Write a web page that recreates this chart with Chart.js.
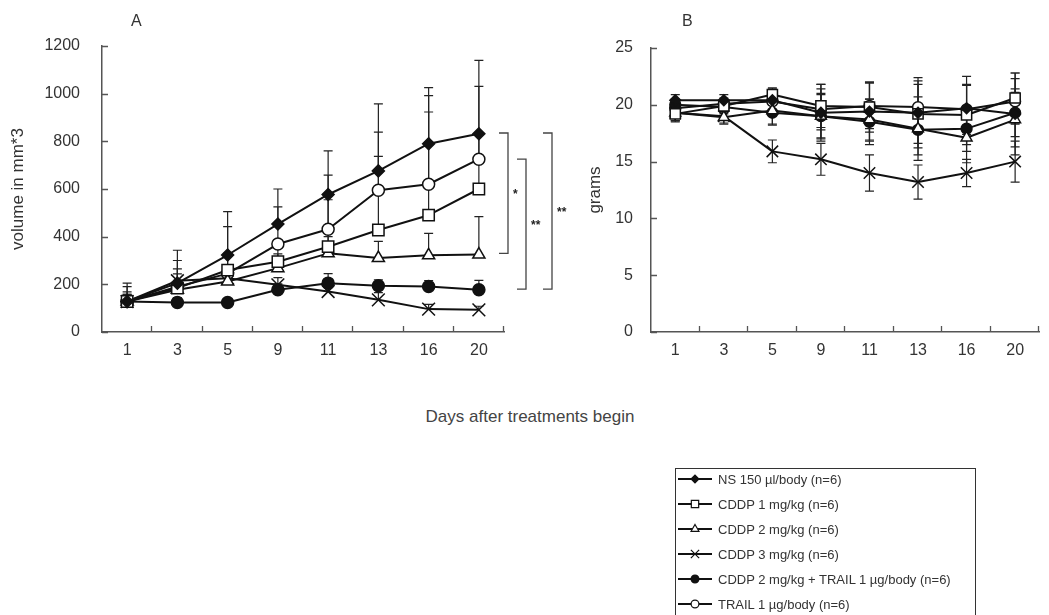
<!DOCTYPE html>
<html><head><meta charset="utf-8">
<script src="https://cdn.jsdelivr.net/npm/chart.js@4.4.1/dist/chart.umd.min.js"></script>
<style>
html,body{margin:0;padding:0;background:#fff}
body{width:1049px;height:615px;overflow:hidden;position:relative;font-family:"Liberation Sans",Arial,sans-serif;color:#333}
.abs{position:absolute}
#legend{position:absolute;left:675px;top:468px;width:301px;height:170px;border:1px solid #333;box-sizing:border-box}
.row{position:absolute;left:0;height:20px;display:flex;align-items:center;font-size:13px;white-space:nowrap}
.row canvas{margin-left:2px;margin-right:6px}
</style></head><body>
<div class="abs" style="left:0;top:0"><canvas id="cA" width="600" height="380"></canvas></div>
<div class="abs" style="left:560px;top:0"><canvas id="cB" width="489" height="380"></canvas></div>
<div class="abs" style="left:131px;top:12px;font-size:16px">A</div>
<div class="abs" style="left:682px;top:12px;font-size:16px">B</div>
<div class="abs" style="left:380px;top:407px;width:300px;text-align:center;font-size:17px;color:#444">Days after treatments begin</div>
<div id="legend"></div>
<script>
// ---------- data ----------
const days = ['1','3','5','9','11','13','16','20'];
const seriesNames = ['NS 150 µl/body (n=6)','CDDP 1 mg/kg (n=6)','CDDP 2 mg/kg (n=6)','CDDP 3 mg/kg (n=6)','CDDP 2 mg/kg + TRAIL 1 µg/body (n=6)','TRAIL 1 µg/body (n=6)'];

// Panel A: tumour volume (mm^3), mean and SD
const volNS      = [128, 205, 323, 453, 577, 676, 790, 832];
const volCDDP1   = [128, 184, 260, 295, 358, 428, 490, 600];
const volCDDP2   = [128, 177, 212, 268, 330, 310, 322, 325];
const volCDDP3   = [128, 215, 226, 198, 170, 135,  96,  93];
const volCombo   = [128, 124, 124, 177, 205, 194, 191, 177];
const volTRAIL   = [128, 190, 245, 369, 431, 595, 620, 725];
const volSdNS    = [77, 138, 182, 147, 183, 281, 235, 308];
const volSdCDDP1 = [40, 60, 70, 80, 197, 309, 433, 230];
const volSdCDDP2 = [30, 40, 50, 60, 70, 70, 92, 159];
const volSdCDDP3 = [30, 50, 40, 30, 20, 30, 20, 15];
const volSdCombo = [20, 20, 15, 25, 40, 25, 25, 40];
const volSdTRAIL = [62, 110, 197, 156, 227, 244, 372, 306];

// Panel B: body weight (grams), mean and SD
const wtNS      = [20.4, 20.4, 20.4, 19.3, 19.4, 19.3, 19.7, 19.2];
const wtCDDP1   = [19.2, 19.9, 20.9, 19.9, 19.8, 19.2, 19.1, 20.6];
const wtCDDP2   = [19.3, 18.9, 19.5, 19.0, 18.7, 17.9, 17.1, 18.7];
const wtCDDP3   = [19.3, 19.0, 15.9, 15.2, 14.0, 13.2, 14.0, 15.0];
const wtCombo   = [20.0, 19.8, 19.3, 19.0, 18.5, 17.8, 17.9, 19.3];
const wtTRAIL   = [19.7, 20.1, 20.3, 19.6, 19.9, 19.8, 19.6, 20.3];
const wtSdNS    = [0.5, 0.5, 1.0, 2.5, 2.6, 3.1, 2.8, 3.6];
const wtSdCDDP1 = [0.6, 0.5, 0.6, 1.9, 2.2, 2.6, 2.6, 2.2];
const wtSdCDDP2 = [0.7, 0.6, 1.2, 2.0, 1.8, 2.8, 2.2, 2.4];
const wtSdCDDP3 = [0.8, 0.6, 1.0, 1.4, 1.6, 1.5, 1.2, 1.8];
const wtSdCombo = [0.5, 0.6, 1.1, 1.9, 2.0, 2.2, 2.0, 2.1];
const wtSdTRAIL = [0.6, 0.5, 0.8, 1.8, 2.0, 2.3, 2.2, 2.0];

// significance brackets in panel A (value range, label)
const bracketTop    = [835, 725, 835];
const bracketBottom = [330, 180, 180];
const bracketLabels = ['*', '**', '**'];

// ---------- styles ----------
const INK = '#111';
const FONT = '"Liberation Sans", Arial, sans-serif';
const markerStyles = [
  {pointStyle:'rectRot',  radius:6, fill:INK},
  {pointStyle:'rect',     radius:8, fill:'#fff'},
  {pointStyle:'triangle', radius:7, fill:'#fff'},
  {pointStyle:'crossRot', radius:9, fill:'#fff'},
  {pointStyle:'circle',   radius:6, fill:INK},
  {pointStyle:'circle',   radius:6, fill:'#fff'}
];

function makeDatasets(means, sds, scale){
  return means.map((m, i) => ({
    label: seriesNames[i],
    data: m,
    sd: sds[i],
    borderColor: INK,
    borderWidth: 2,
    pointStyle: markerStyles[i].pointStyle,
    pointRadius: markerStyles[i].radius * scale,
    pointBackgroundColor: markerStyles[i].fill,
    pointBorderColor: INK,
    pointBorderWidth: 1.5,
    tension: 0,
    clip: false
  }));
}

const errorBarPlugin = {
  id: 'errorBars',
  beforeDatasetsDraw(chart, args, opts) {
    const ctx = chart.ctx, y = chart.scales.y;
    ctx.save();
    ctx.strokeStyle = '#222';
    ctx.lineWidth = 1.2;
    chart.data.datasets.forEach((ds, i) => {
      const meta = chart.getDatasetMeta(i);
      meta.data.forEach((pt, j) => {
        const m = ds.data[j], s = ds.sd[j];
        const yt = y.getPixelForValue(m + s);
        const yb = opts.both ? y.getPixelForValue(m - s) : y.getPixelForValue(m);
        ctx.beginPath();
        ctx.moveTo(pt.x, yt); ctx.lineTo(pt.x, yb);
        ctx.moveTo(pt.x - 4.5, yt); ctx.lineTo(pt.x + 4.5, yt);
        if (opts.both) { ctx.moveTo(pt.x - 4.5, yb); ctx.lineTo(pt.x + 4.5, yb); }
        ctx.stroke();
      });
    });
    ctx.restore();
  }
};

const insideTicksPlugin = {
  id: 'insideTicks',
  afterDraw(chart) {
    const ctx = chart.ctx, a = chart.chartArea, ys = chart.scales.y, xs = chart.scales.x;
    ctx.save();
    ctx.strokeStyle = '#555';
    ctx.lineWidth = 1.3;
    ctx.beginPath();
    ys.ticks.forEach(t => {
      const py = Math.round(ys.getPixelForValue(t.value)) + 0.5;
      ctx.moveTo(a.left, py); ctx.lineTo(a.left + 6, py);
    });
    const n = xs.getLabels().length, w = (a.right - a.left) / n;
    for (let i = 1; i <= n; i++) {
      const px = Math.round(a.left + i * w) - 0.5;
      ctx.moveTo(px, a.bottom); ctx.lineTo(px, a.bottom - 6);
    }
    ctx.stroke();
    ctx.restore();
  }
};

const bracketPlugin = {
  id: 'brackets',
  afterDraw(chart, args, opts) {
    if (!opts.enabled) return;
    const ctx = chart.ctx, a = chart.chartArea, ys = chart.scales.y;
    const offsets = [4, 22, 48];
    ctx.save();
    ctx.strokeStyle = '#444';
    ctx.fillStyle = '#222';
    ctx.lineWidth = 1.3;
    ctx.font = 'bold 12px ' + FONT;
    ctx.textBaseline = 'middle';
    bracketTop.forEach((tv, i) => {
      const x = a.right + offsets[i];
      const y1 = ys.getPixelForValue(tv), y2 = ys.getPixelForValue(bracketBottom[i]);
      ctx.beginPath();
      ctx.moveTo(x - 9, y1); ctx.lineTo(x, y1); ctx.lineTo(x, y2); ctx.lineTo(x - 9, y2);
      ctx.stroke();
      ctx.fillText(bracketLabels[i], x + 5, (y1 + y2) / 2 + 2);
    });
    ctx.restore();
  }
};

function makeOptions(c){
  return {
    responsive: false,
    animation: false,
    devicePixelRatio: 1,
    layout: {padding: {left: 0, right: c.padRight, top: c.padTop, bottom: 0}},
    plugins: {legend: {display: false}, tooltip: {enabled: false},
              errorBars: {both: c.both}, brackets: {enabled: c.brackets}},
    elements: {line: {borderJoinStyle: 'round'}},
    scales: {
      x: {
        type: 'category', offset: true,
        grid: {display: false, drawTicks: false},
        border: {display: true, color: '#555', width: 1.5},
        ticks: {color: '#333', font: {size: 16, family: FONT}, padding: 9, autoSkip: false, maxRotation: 0},
        afterFit(s){ s.height = 48; }
      },
      y: {
        min: 0, max: c.max,
        grid: {display: false, drawTicks: false},
        border: {display: true, color: '#555', width: 1.5},
        ticks: {stepSize: c.step, color: '#333', font: {size: 16, family: FONT}, padding: c.tickPad,
                callback: v => String(v)},
        title: {display: true, text: c.title, color: '#333', font: {size: 17, family: FONT}, padding: {top: c.titlePad, bottom: 0}},
        afterFit(s){ s.width = c.yWidth; }
      }
    }
  };
}

new Chart(document.getElementById('cA'), {
  type: 'line',
  data: {labels: days, datasets: makeDatasets(
    [volNS, volCDDP1, volCDDP2, volCDDP3, volCombo, volTRAIL],
    [volSdNS, volSdCDDP1, volSdCDDP2, volSdCDDP3, volSdCombo, volSdTRAIL], 1)},
  options: makeOptions({padRight: 96, padTop: 46, max: 1200, step: 200, tickPad: 22,
    title: 'volume in mm*3', titlePad: 8, yWidth: 102, both: false, brackets: true}),
  plugins: [errorBarPlugin, insideTicksPlugin, bracketPlugin]
});

new Chart(document.getElementById('cB'), {
  type: 'line',
  data: {labels: days, datasets: makeDatasets(
    [wtNS, wtCDDP1, wtCDDP2, wtCDDP3, wtCombo, wtTRAIL],
    [wtSdNS, wtSdCDDP1, wtSdCDDP2, wtSdCDDP3, wtSdCombo, wtSdTRAIL], 0.9)},
  options: makeOptions({padRight: 0, padTop: 48, max: 25, step: 5, tickPad: 18,
    title: 'grams', titlePad: 25, yWidth: 91, both: true, brackets: false}),
  plugins: [errorBarPlugin, insideTicksPlugin, bracketPlugin]
});

// ---------- legend ----------
const legendEl = document.getElementById('legend');
const legendRowTop = [0, 25, 50, 75, 100, 125];
seriesNames.forEach((name, i) => {
  const row = document.createElement('div');
  row.className = 'row';
  row.style.top = legendRowTop[i] + 'px';
  const cv = document.createElement('canvas');
  cv.width = 34; cv.height = 16;
  const ctx = cv.getContext('2d');
  ctx.strokeStyle = INK; ctx.lineWidth = 2;
  ctx.beginPath(); ctx.moveTo(0, 8); ctx.lineTo(34, 8); ctx.stroke();
  ctx.fillStyle = markerStyles[i].fill; ctx.lineWidth = 1.2;
  const st = markerStyles[i];
  const opts = {pointStyle: st.pointStyle, radius: st.radius * 0.65, borderWidth: 1.2, rotation: 0};
  if (Chart.helpers && Chart.helpers.drawPoint) {
    Chart.helpers.drawPoint(ctx, opts, 17, 8);
  }
  row.appendChild(cv);
  const span = document.createElement('span');
  span.textContent = name;
  row.appendChild(span);
  legendEl.appendChild(row);
});
</script>
</body></html>
